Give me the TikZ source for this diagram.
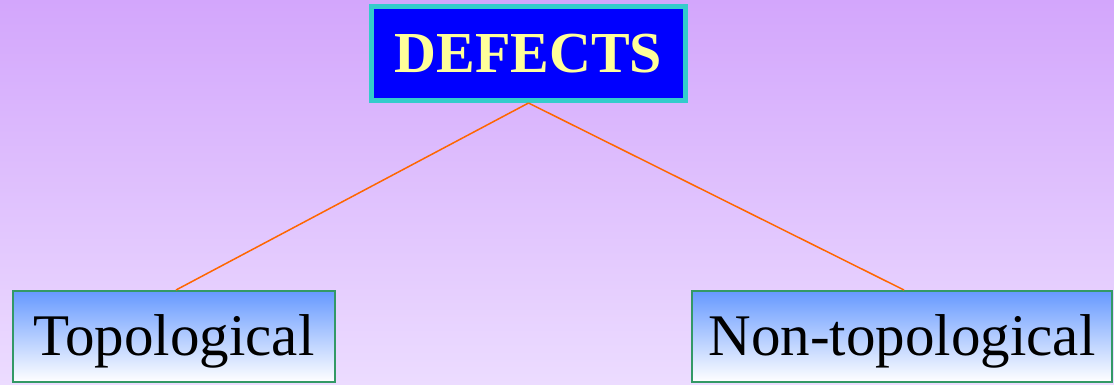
\documentclass[tikz,border=0pt]{standalone}
\usepackage{fontspec}
\setmainfont{Liberation Serif}
\definecolor{bgtop}{RGB}{211,166,252}
\definecolor{bgbot}{RGB}{236,220,255}
\definecolor{cyanb}{RGB}{51,204,204}
\definecolor{defblue}{RGB}{0,0,255}
\definecolor{defyel}{RGB}{255,255,153}
\definecolor{boxtop}{RGB}{102,153,255}
\definecolor{boxgreen}{RGB}{51,153,102}
\definecolor{linkor}{RGB}{255,102,0}
\tikzset{
  headbox/.style={draw=cyanb, line width=5pt, fill=defblue, text=defyel,
    minimum width=314pt, minimum height=94pt, inner sep=0pt,
    font=\fontsize{58}{60}\selectfont\bfseries},
  leafbox/.style={draw=boxgreen, line width=2pt, top color=boxtop, bottom color=white,
    minimum height=91pt, inner sep=0pt, text=black,
    font=\fontsize{59}{62}\selectfont, text height=42pt, text depth=4pt},
  link/.style={draw=linkor, line width=1.5pt}
}
\begin{document}
\begin{tikzpicture}[x=1pt,y=1pt]
\useasboundingbox (0,0) rectangle (1114,-384);
\shade[top color=bgtop, bottom color=bgbot] (0,0) rectangle (1114,-384);
\node[headbox] (def) at (528.5,-53.5) {DEFECTS};
\node[leafbox, minimum width=322pt] (top) at (174,-336.5) {Topological};
\node[leafbox, minimum width=420pt] (non) at (902,-336.5) {Non-topological};
\draw[link] (def.south) -- ([xshift=2pt]top.north);
\draw[link] (def.south) -- ([xshift=2pt]non.north);
\end{tikzpicture}
\end{document}
